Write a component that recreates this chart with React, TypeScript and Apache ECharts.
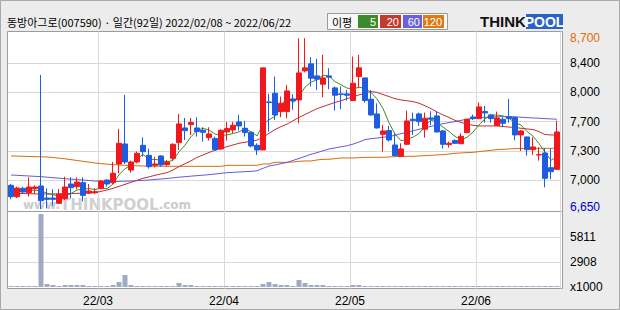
import React, { useEffect, useRef } from 'react';
import * as echarts from 'echarts';

// ---- data ----
const dates = [
  '02/08','02/09','02/10','02/11','02/14','02/15','02/16','02/17','02/18','02/21','02/22','02/23','02/24','02/25','02/28',
  '03/02','03/03','03/04','03/07','03/08','03/10','03/11','03/14','03/15','03/16','03/17','03/18','03/21','03/22','03/23','03/24','03/25','03/28','03/29','03/30','03/31',
  '04/01','04/04','04/05','04/06','04/07','04/08','04/11','04/12','04/13','04/14','04/15','04/18','04/19','04/20','04/21','04/22','04/25','04/26','04/27','04/28','04/29',
  '05/02','05/03','05/04','05/06','05/09','05/10','05/11','05/12','05/13','05/16','05/17','05/18','05/19','05/20','05/23','05/24','05/25','05/26','05/27','05/30','05/31',
  '06/02','06/03','06/07','06/08','06/09','06/10','06/13','06/14','06/15','06/16','06/17','06/20','06/21','06/22'
];

const openP = [6936,6800,6900,6848,6896,6928,6784,6784,6720,6776, 6952,6920,6968,6844,6848,6900,7000,6968,7192,7432, 7120,7216,7416,7296,7176,7288,7184,7260,7448,7624, 7664,7624,7596,7508,7496,7372,7576,7600,7696,7620, 7572,7416,7360,7936,8040,7820,7820,7972,7960,8308, 8392,8248,8148,8248,8104,8032,8032,7952,8240,8224, 7968,7792,7548,7592,7420,7284,7428,7728,7792,7608, 7744,7768,7588,7424,7472,7436,7568,7756,7736,7820, 7780,7652,7728,7756,7748,7540,7516,7364,7300,7324, 7148,7128];
const highP = [6952,6920,6920,7032,6936,8260,6900,6888,6892,7040, 7032,7032,7032,6952,6900,7000,7008,7216,7612,8020, 7232,7340,7512,7376,7280,7296,7240,7440,7792,7744, 7744,7752,7632,7632,7520,7608,7696,7696,7780,7708, 7580,7440,8344,8032,8240,8000,8140,8028,8700,8700, 8472,8452,8500,8340,8120,8120,8080,8480,8500,8224, 8080,7920,7660,7648,7560,7440,7832,7808,7808,7808, 7824,7824,7600,7460,7488,7560,7732,7784,7928,7888, 7792,7820,7752,7972,7752,7600,7520,7512,7392,7380, 7380,7712];
const lowP = [6768,6784,6840,6800,6832,6650,6660,6692,6712,6760, 6780,6888,6744,6832,6830,6888,6920,6952,7080,7192, 7088,7200,7280,7136,7152,7160,7168,7240,7360,7480, 7540,7520,7460,7472,7348,7360,7472,7560,7592,7520, 7392,7300,7360,7580,7720,7752,7740,7840,7680,8290, 8120,8080,7992,8088,7832,7848,7952,7952,8100,7928, 7768,7616,7340,7460,7292,7284,7420,7540,7648,7508, 7656,7568,7376,7388,7432,7428,7560,7720,7728,7688, 7688,7648,7632,7688,7476,7348,7292,7300,7232,6912, 7008,7120];
const closeP = [6800,6904,6856,6916,6916,6752,6768,6768,6832,6916, 6908,6976,6816,6868,6860,6988,6952,7080,7440,7216, 7216,7320,7340,7160,7192,7180,7216,7428,7672,7592, 7688,7580,7572,7552,7364,7596,7616,7656,7648,7568, 7408,7360,8344,7928,7780,7920,8068,7948,8284,8344, 8220,8208,8224,8232,8016,8024,8016,8160,8344,7952, 7780,7624,7588,7480,7292,7372,7708,7712,7700,7740, 7728,7576,7428,7440,7440,7524,7728,7736,7876,7804, 7736,7744,7680,7736,7540,7588,7364,7396,7304,7020, 7100,7576];

const ma5 = [6880,6872,6868,6876,6878,6869,6842,6824,6807,6807, 6838,6880,6890,6897,6886,6902,6897,6950,7064,7135, 7181,7254,7306,7250,7246,7238,7218,7235,7338,7418, 7519,7592,7621,7597,7551,7533,7540,7557,7576,7617, 7579,7528,7666,7722,7764,7866,8008,7929,8000,8113, 8173,8201,8256,8246,8180,8141,8102,8090,8112,8099, 8050,7972,7858,7685,7553,7471,7488,7513,7557,7646, 7718,7691,7634,7582,7522,7482,7512,7574,7661,7734, 7776,7779,7768,7740,7687,7658,7582,7525,7438,7334, 7237,7279];
const ma20 = [6840,6840,6838,6836,6834,6832,6832,6832,6834,6836, 6838,6840,6842,6844,6848,6864,6880,6900,6924,6948, 6972,6996,7020,7038,7056,7072,7088,7120,7160,7195, 7230,7270,7300,7330,7355,7380,7400,7420,7440,7452, 7464,7478,7510,7560,7605,7640,7670,7710,7750,7785, 7820,7855,7880,7905,7930,7950,7975,8000,8020,8040, 8060,8050,8025,8000,7975,7960,7950,7940,7920,7890, 7855,7815,7780,7750,7715,7690,7670,7655,7648,7648, 7648,7648,7642,7634,7630,7620,7612,7605,7580,7545, 7540,7540];
const ma60 = [7060,7056,7052,7048,7044,7040,7034,7028,7022,7016, 7010,7004,7000,6994,6988,6984,6982,6982,6984,6986, 6988,6992,6996,7000,7006,7012,7018,7026,7034,7040, 7046,7052,7058,7064,7072,7080,7088,7092,7096,7100, 7104,7110,7140,7168,7180,7195,7210,7235,7258,7283, 7308,7328,7350,7372,7385,7398,7410,7430,7455,7485, 7495,7503,7512,7522,7535,7555,7572,7590,7608,7625, 7642,7660,7675,7688,7700,7715,7728,7738,7748,7752, 7755,7758,7760,7760,7758,7752,7748,7744,7740,7736, 7732,7728];
const ma120 = [7288,7286,7284,7282,7280,7278,7276,7270,7262,7254, 7244,7234,7224,7214,7204,7196,7190,7184,7180,7176, 7172,7170,7168,7166,7165,7164,7164,7164,7164,7164, 7164,7164,7164,7164,7164,7164,7176,7176,7176,7176, 7176,7176,7192,7192,7212,7212,7212,7216,7224,7228, 7228,7240,7248,7248,7256,7264,7264,7264,7268,7272, 7272,7272,7272,7276,7280,7284,7284,7284,7288,7292, 7296,7300,7304,7312,7320,7324,7328,7332,7340,7348, 7356,7364,7368,7372,7376,7378,7380,7380,7380,7380, 7380,7380];

// volume in thousands of shares
const volume = [120,120,120,120,120,8480,348,232,116,232, 232,232,232,116,116,116,116,232,580,1393, 232,116,116,116,116,116,116,116,464,232, 232,116,116,116,116,116,116,116,116,116, 116,116,348,580,348,232,232,116,812,464, 232,232,232,116,116,116,116,232,232,116, 116,116,116,116,116,116,116,116,116,116, 116,116,116,116,116,116,116,116,116,116, 116,116,116,116,116,116,116,116,116,116, 116,116];

const priceTickValues = [6650, 7000, 7350, 7700, 8050, 8400, 8750];
const priceTickLabels = ['6,650', '7,000', '7,300', '7,700', '8,000', '8,400', '8,700'];
const volTickValues = [0, 2903, 5806];
const volTickLabels = ['x1000', '2908', '5811'];
const monthStartIdx = [15, 36, 57, 78];
const monthLabels = ['22/03', '22/04', '22/05', '22/06'];

const maNames = ['5', '20', '60', '120'];
const maColors = ['#3f8c22', '#c2302c', '#6a5ad6', '#d96c0c'];
const legendColors = ['#3d8a2a', '#c43a2c', '#6a60d8', '#dc7a14'];

const TITLE = '동방아그로(007590) · 일간(92일) 2022/02/08 ~ 2022/06/22';
const UP = '#f0181c';
const DOWN = '#1f5ce0';
const GRIDC = '#d9d9d9';
const FRAME = '#9c9c9c';
const KFONT = '"Noto Sans CJK KR", sans-serif';
const NFONT = '"Liberation Sans", Arial, sans-serif';

export default function App() {
  const ref = useRef<HTMLDivElement>(null);
  useEffect(() => {
    if (!ref.current) return;
    const chart = echarts.init(ref.current, undefined, { renderer: 'svg' });

    const legendX = [358, 380, 403, 423];
    const legendW = [20, 21, 19, 21];
    const legendEls: any[] = [
      { type: 'rect', shape: { x: 327.5, y: 13.5, width: 120, height: 16 }, style: { fill: '#f8f8f8', stroke: '#9a9a9a', lineWidth: 1 }, z: 10 },
      { type: 'text', x: 332, y: 22, style: { text: '이평', fill: '#000', font: '11px ' + KFONT, verticalAlign: 'middle' }, z: 11 },
    ];
    maNames.forEach((n, i) => {
      legendEls.push({ type: 'rect', shape: { x: legendX[i], y: 15, width: legendW[i], height: 13 }, style: { fill: legendColors[i] }, z: 11 });
      legendEls.push({ type: 'text', x: legendX[i] + legendW[i] - 2, y: 22, style: { text: n, fill: '#fff', font: '11px ' + NFONT, align: 'right', verticalAlign: 'middle' }, z: 12 });
    });

    const option: any = {
      animation: false,
      backgroundColor: '#ececec',
      graphic: {
        elements: [
          { type: 'rect', shape: { x: 0.5, y: 0.5, width: 619, height: 309 }, style: { fill: 'none', stroke: '#a9a9a9', lineWidth: 1 }, z: -30, silent: true },
          { type: 'rect', shape: { x: 7.5, y: 31.5, width: 555, height: 180 }, style: { fill: '#ffffff', stroke: FRAME, lineWidth: 1 }, z: -20, silent: true },
          { type: 'rect', shape: { x: 7.5, y: 211.5, width: 555, height: 77 }, style: { fill: '#ffffff', stroke: FRAME, lineWidth: 1 }, z: -20, silent: true },
          {
            type: 'text', x: 23, y: 205, z: -10, silent: true,
            style: {
              text: '{a|www.}{b|THINKPOOL}{a|.com}',
              verticalAlign: 'middle',
              rich: {
                a: { fill: '#cbcbcb', font: 'bold 12px "DejaVu Sans", sans-serif' },
                b: { fill: '#d0d0d0', font: 'bold 15px "DejaVu Sans", sans-serif' },
              },
            },
          },
          { type: 'text', x: 7, y: 22, style: { text: TITLE, fill: '#000', font: '11px ' + KFONT, verticalAlign: 'middle' }, z: 10 },
          ...legendEls,
          { type: 'text', x: 480, y: 21.5, style: { text: 'THINK', fill: '#111', font: '900 15px "Liberation Sans", Arial, sans-serif', verticalAlign: 'middle' }, z: 10 },
          { type: 'rect', shape: { x: 526, y: 14, width: 37, height: 15 }, style: { fill: '#2a63c8' }, z: 10 },
          { type: 'text', x: 544.5, y: 21.5, style: { text: 'POOL', fill: '#fff', font: '900 14px "Liberation Sans", Arial, sans-serif', align: 'center', verticalAlign: 'middle' }, z: 11 },
        ],
      },
      grid: [
        { left: 8, top: 34, width: 552, height: 175.2 },
        { left: 8, top: 212, width: 552, height: 75 },
        { left: 8, top: 31.5, width: 552, height: 257 },
      ],
      xAxis: [
        { type: 'category', gridIndex: 0, data: dates, show: false },
        { type: 'category', gridIndex: 1, data: dates, show: false },
        {
          type: 'category', gridIndex: 2, data: dates, position: 'bottom',
          axisLine: { show: false }, axisTick: { show: false },
          splitLine: { show: true, interval: (idx: number) => monthStartIdx.includes(idx), lineStyle: { color: GRIDC, width: 1 } },
          axisLabel: {
            show: true, margin: 6,
            interval: (idx: number) => monthStartIdx.includes(idx),
            formatter: (_v: string, idx: number) => {
              const k = monthStartIdx.indexOf(idx);
              return k >= 0 ? '{m|' + monthLabels[k] + '}' : '';
            },
            rich: { m: { color: '#000', fontSize: 12, fontFamily: NFONT, padding: [0, 6, 0, 0] } },
          },
        },
      ],
      yAxis: [
        {
          type: 'value', gridIndex: 0, position: 'right', min: 6650, max: 8750, interval: 350,
          axisLine: { show: false }, axisTick: { show: false },
          splitLine: { show: true, showMinLine: false, showMaxLine: false, lineStyle: { color: GRIDC, width: 1 } },
          axisLabel: {
            margin: 10, color: '#000', fontSize: 12, fontFamily: NFONT, align: 'left',
            formatter: (v: number) => {
              const k = priceTickValues.findIndex((t) => Math.abs(t - v) < 0.5);
              if (k < 0) return '';
              if (k === priceTickValues.length - 1) return '{hi|' + priceTickLabels[k] + '}';
              if (k === 0) return '{lo|' + priceTickLabels[k] + '}';
              return priceTickLabels[k];
            },
            rich: {
              hi: { color: '#e06c00', fontSize: 12, fontFamily: NFONT, padding: [8, 0, 0, 0] },
              lo: { color: '#0000cc', fontSize: 12, fontFamily: NFONT, padding: [0, 0, 4, 0] },
            },
          },
        },
        {
          type: 'value', gridIndex: 1, position: 'right', min: 0, max: 8709, interval: 2903,
          axisLine: { show: false }, axisTick: { show: false },
          splitLine: { show: true, showMinLine: false, showMaxLine: false, lineStyle: { color: GRIDC, width: 1 } },
          axisLabel: {
            margin: 10, color: '#000', fontSize: 12, fontFamily: NFONT, align: 'left',
            formatter: (v: number) => {
              const k = volTickValues.findIndex((t) => Math.abs(t - v) < 0.5);
              return k >= 0 ? volTickLabels[k] : '';
            },
          },
        },
        { type: 'value', gridIndex: 2, min: 0, max: 1, show: false },
      ],
      series: [
        ...[ma120, ma60, ma20, ma5].map((d, j) => ({
          type: 'line', xAxisIndex: 0, yAxisIndex: 0, data: d, showSymbol: false, symbol: 'none', silent: true, z: 2,
          lineStyle: { width: 1, color: maColors[3 - j] },
        })),
        {
          type: 'candlestick', xAxisIndex: 0, yAxisIndex: 0, barWidth: 5, z: 3,
          data: dates.map((_, i) => [openP[i], closeP[i], lowP[i], highP[i]]),
          itemStyle: { color: UP, color0: DOWN, borderColor: UP, borderColor0: DOWN, borderWidth: 1 },
        },
        {
          type: 'bar', xAxisIndex: 1, yAxisIndex: 1, data: volume, barWidth: 5, silent: true,
          itemStyle: { color: '#a1aac3' },
        },
      ],
    };
    chart.setOption(option);
    return () => chart.dispose();
  }, []);
  return <div ref={ref} style={{ position: 'absolute', left: 0, top: 0, width: 620, height: 310 }} />;
}
